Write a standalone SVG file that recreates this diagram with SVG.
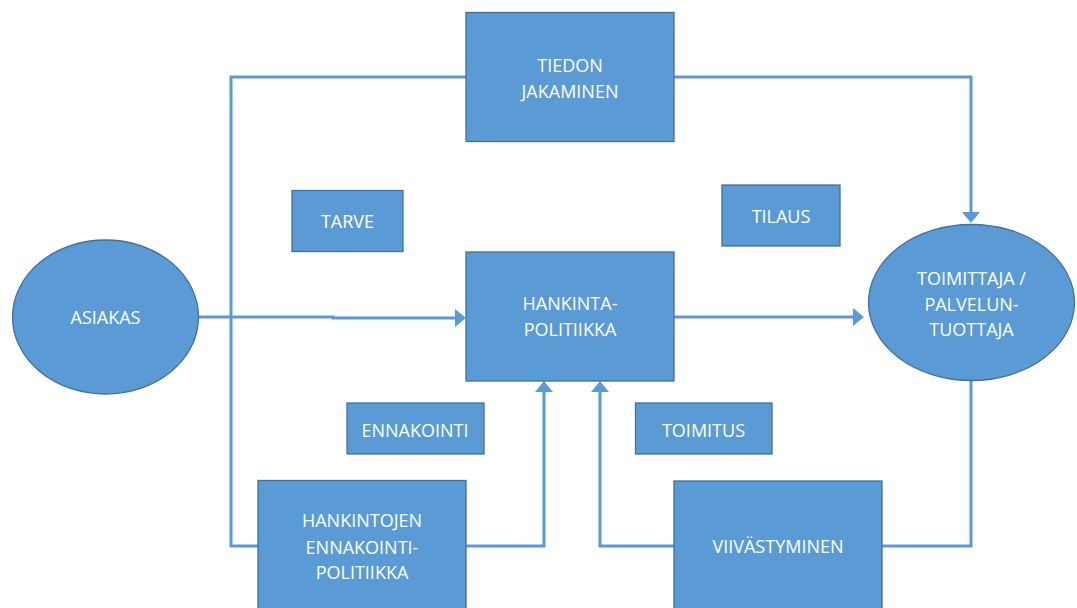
<svg xmlns="http://www.w3.org/2000/svg" width="1077" height="608" viewBox="0 0 1077 608">
  <defs>
    <style>
      .node { fill: #5B9BD5; stroke: #41719C; stroke-width: 1.3; }
      .label { fill: #FFFFFF; font-family: "Open Sans", "Liberation Sans", sans-serif; font-size: 18px; text-anchor: middle; }
      .link { fill: none; stroke: #5B9BD5; stroke-width: 3; }
    </style>
    <marker id="arrow" markerUnits="userSpaceOnUse" markerWidth="12" markerHeight="18" refX="8" refY="9" orient="auto">
      <path d="M0,0 L11,9 L0,18 Z" fill="#5B9BD5"/>
    </marker>
  </defs>
  <rect width="1077" height="608" fill="#FFFFFF"/>

  <!-- connectors -->
  <g id="connectors">
    <path class="link" d="M466,77 H231 V546 H258"/>
    <path class="link" d="M674,77 H971 V220" marker-end="url(#arrow)"/>
    <path class="link" d="M198,317 H333 V318 H463" marker-end="url(#arrow)"/>
    <path class="link" d="M674,317 H861" marker-end="url(#arrow)"/>
    <path class="link" d="M466,546 H544 V384" marker-end="url(#arrow)"/>
    <path class="link" d="M674,546 H600 V384" marker-end="url(#arrow)"/>
    <path class="link" d="M882,546 H971 V380"/>
  </g>

  <g id="tiedon-jakaminen">
    <rect class="node" x="466" y="12.5" width="208" height="129"/>
    <text class="label" x="570" y="72">TIEDON</text>
    <text class="label" x="570" y="98">JAKAMINEN</text>
  </g>

  <g id="tarve">
    <rect class="node" x="292" y="190.5" width="111" height="61"/>
    <text class="label" x="347.5" y="228">TARVE</text>
  </g>

  <g id="tilaus">
    <rect class="node" x="722" y="185" width="118" height="61"/>
    <text class="label" x="781" y="223">TILAUS</text>
  </g>

  <g id="asiakas">
    <ellipse class="node" cx="105.5" cy="317" rx="93" ry="77"/>
    <text class="label" x="105.5" y="324">ASIAKAS</text>
  </g>

  <g id="hankintapolitiikka">
    <rect class="node" x="466" y="252" width="208" height="129"/>
    <text class="label" x="570" y="310">HANKINTA-</text>
    <text class="label" x="570" y="336">POLITIIKKA</text>
  </g>

  <g id="toimittaja">
    <ellipse class="node" cx="971.5" cy="302.5" rx="103" ry="78"/>
    <text class="label" x="971.5" y="285">TOIMITTAJA /</text>
    <text class="label" x="971.5" y="310.5">PALVELUN-</text>
    <text class="label" x="971.5" y="336">TUOTTAJA</text>
  </g>

  <g id="ennakointi">
    <rect class="node" x="347" y="403" width="137" height="51"/>
    <text class="label" x="415" y="436.5">ENNAKOINTI</text>
  </g>

  <g id="toimitus">
    <rect class="node" x="635.5" y="403" width="136.5" height="51"/>
    <text class="label" x="703.5" y="436.5">TOIMITUS</text>
  </g>

  <g id="hankintojen-ennakointipolitiikka">
    <rect class="node" x="258" y="480.5" width="208" height="129"/>
    <text class="label" x="362" y="527">HANKINTOJEN</text>
    <text class="label" x="362" y="553.5">ENNAKOINTI-</text>
    <text class="label" x="362" y="579">POLITIIKKA</text>
  </g>

  <g id="viivastyminen">
    <rect class="node" x="674" y="481" width="208" height="129"/>
    <text class="label" x="778" y="553">VIIVÄSTYMINEN</text>
  </g>
</svg>
